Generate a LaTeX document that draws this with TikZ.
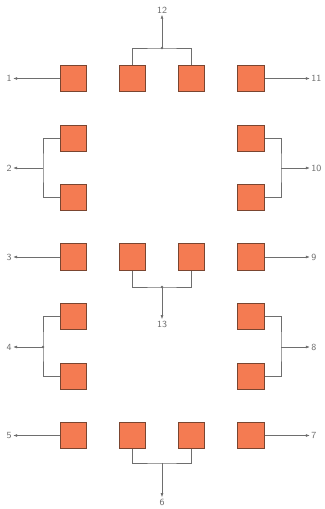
\documentclass[tikz,border=0pt]{standalone}
\usepackage{xcolor}
\usepackage{tikz}
\usetikzlibrary{arrows.meta}

\definecolor{padfill}{HTML}{F47B52}
\definecolor{padedge}{HTML}{7A4530}
\definecolor{wiregray}{HTML}{6E6E6E}

\begin{document}
\begin{tikzpicture}[x=0.03cm,y=-0.03cm,
  pad/.style={draw=padedge,fill=padfill,line width=0.6pt,minimum size=0.8cm,
              inner sep=0pt},
  wire/.style={draw=wiregray,line width=0.55pt},
  arr/.style={wire,-{Latex[length=3.5pt,width=2.4pt]}},
  pin/.style={font=\sffamily\footnotesize,text=wiregray,inner sep=1pt},
  jdot/.style={circle,fill=wiregray,inner sep=0pt,minimum size=2.2pt}
]
\useasboundingbox (0,0) rectangle (324,509);

%% Pads: full rows
\foreach \r/\y in {1/78.5,4/257,7/435.5}{
  \node[pad] (s\r1) at (73.5,\y)  {};
  \node[pad] (s\r2) at (132.5,\y) {};
  \node[pad] (s\r3) at (191.5,\y) {};
  \node[pad] (s\r4) at (251,\y)   {};
}
%% Pads: side rows
\foreach \r/\y in {2/138.5,3/197.5,5/316.5,6/376.5}{
  \node[pad] (s\r1) at (73.5,\y) {};
  \node[pad] (s\r4) at (251,\y)  {};
}

%% Pin numbers
\node[pin,anchor=east] (n1)  at (13,78.5)  {1};
\node[pin,anchor=east] (n2)  at (13,168)   {2};
\node[pin,anchor=east] (n3)  at (13,257)   {3};
\node[pin,anchor=east] (n4)  at (13,347)   {4};
\node[pin,anchor=east] (n5)  at (13,435.5) {5};
\node[pin,anchor=west] (n7)  at (310,435.5){7};
\node[pin,anchor=west] (n8)  at (310,347)  {8};
\node[pin,anchor=west] (n9)  at (310,257)  {9};
\node[pin,anchor=west] (n10) at (310,168)  {10};
\node[pin,anchor=west] (n11) at (310,78.5) {11};
\node[pin] (n12) at (162,10)  {12};
\node[pin] (n13) at (162,324) {13};
\node[pin] (n6)  at (162,502) {6};

%% Junctions
\coordinate (j2)  at (43,168);
\coordinate (j4)  at (43,347);
\coordinate (j10) at (281,168);
\coordinate (j8)  at (281,347);
\coordinate (j12) at (162,48);
\coordinate (j13) at (162,287);
\coordinate (j6)  at (162,463);

%% Single leads
\draw[arr] (s11.west) -- (n1.east);
\draw[arr] (s41.west) -- (n3.east);
\draw[arr] (s71.west) -- (n5.east);
\draw[arr] (s14.east) -- (n11.west);
\draw[arr] (s44.east) -- (n9.west);
\draw[arr] (s74.east) -- (n7.west);

%% Paired leads, sides
\draw[wire] (s21.west) -| (j2) |- (s31.west);
\draw[wire] (s51.west) -| (j4) |- (s61.west);
\draw[wire] (s24.east) -| (j10) |- (s34.east);
\draw[wire] (s54.east) -| (j8) |- (s64.east);
\draw[arr] (j2)  -- (n2.east);
\draw[arr] (j4)  -- (n4.east);
\draw[arr] (j10) -- (n10.west);
\draw[arr] (j8)  -- (n8.west);

%% Paired leads, middle
\draw[wire] (s12.north) |- (j12) -| (s13.north);
\draw[wire] (s42.south) |- (j13) -| (s43.south);
\draw[wire] (s72.south) |- (j6)  -| (s73.south);
\draw[arr] (j12) -- (n12.south);
\draw[arr] (j13) -- (n13.north);
\draw[arr] (j6)  -- (n6.north);
\node[jdot] (d12) at (j12) {};
\node[jdot] (d13) at (j13) {};
\node[jdot] (d4)  at (j4)  {};
\end{tikzpicture}
\end{document}
